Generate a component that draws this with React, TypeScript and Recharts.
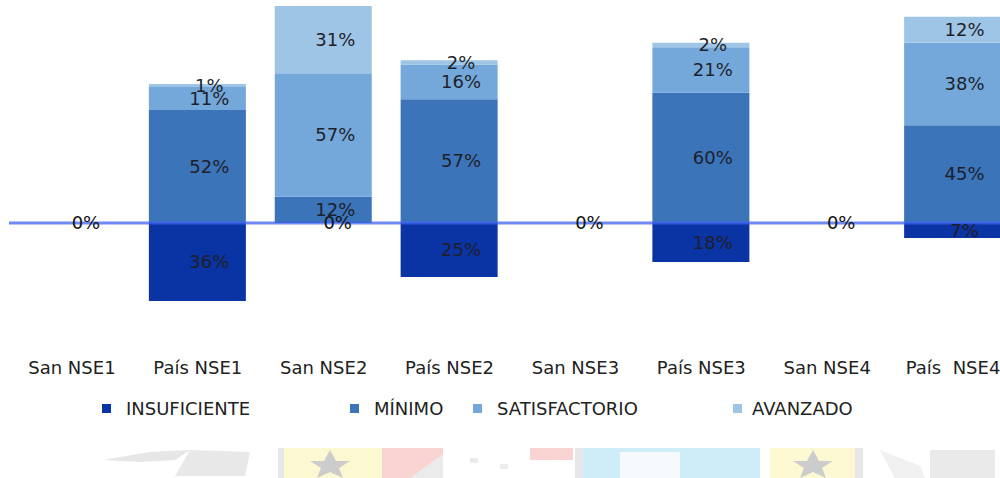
import {
  ComposedChart,
  Bar,
  Line,
  XAxis,
  YAxis,
  LabelList,
  ReferenceLine,
} from "recharts";

const categories = [
  "San NSE1",
  "País NSE1",
  "San NSE2",
  "País NSE2",
  "San NSE3",
  "País NSE3",
  "San NSE4",
  "País\u00a0 NSE4",
];
// insuficiente is drawn below zero
const insuficiente = [0, 36, 0, 25, 0, 18, 0, 7];
const minimo = [0, 52, 12, 57, 0, 60, 0, 45];
const satisfactorio = [0, 11, 57, 16, 0, 21, 0, 38];
const avanzado = [0, 1, 31, 2, 0, 2, 0, 12];

const seriesNames = ["INSUFICIENTE", "MÍNIMO", "SATISFACTORIO", "AVANZADO"];
const COLORS = ["#0a33a3", "#3b74b9", "#74a8da", "#9ec5e5"];

const data = categories.map((name, i) => ({
  name,
  insuf: -insuficiente[i],
  min: minimo[i],
  sat: satisfactorio[i],
  av: avanzado[i],
  // zero-height segments still get a "0%" label, like in the original
  zero: insuficiente[i] === 0 ? 0 : null,
}));

const FONT = "'DejaVu Sans', Verdana, sans-serif";
const labelStyle = { fontFamily: FONT, fontSize: 18, fill: "#1f1f2a" };
const fmt = (v: any) => `${Math.abs(Number(v))}%`;

// legend layout (page x of each marker)
const legendX = [102, 350, 473, 733];

const Legend = () => (
  <div style={{ position: "absolute", left: 0, top: 398, width: 1000, height: 24 }}>
    {seriesNames.map((s, i) => (
      <div
        key={s}
        style={{
          position: "absolute",
          left: legendX[i],
          top: 0,
          display: "flex",
          alignItems: "center",
          fontFamily: FONT,
          fontSize: 18,
          color: "#222",
          whiteSpace: "nowrap",
        }}
      >
        <span
          style={{
            width: 9,
            height: 9,
            background: COLORS[i],
            marginRight: i === 3 ? 10 : 15,
            display: "inline-block",
          }}
        />
        {s}
      </div>
    ))}
  </div>
);

// faded banner strip at the bottom of the slide
const Banner = () => (
  <svg
    width={1000}
    height={32}
    style={{ position: "absolute", left: 0, top: 446, opacity: 0.5 }}
  >
    <polygon points="103,14 150,6 190,4 175,14 140,16" fill="#cfcfcf" />
    <polygon points="175,30 190,4 250,6 245,30" fill="#d2d2d2" />
    <rect x={278} y={2} width={104} height={30} fill="#fbf3a6" />
    <rect x={278} y={2} width={6} height={30} fill="#d0d0d0" />
    <polygon points="330,4 336,15 350,15 339,22 343,32 330,26 317,32 321,22 310,15 324,15" fill="#9a9a9a" />
    <rect x={382} y={2} width={61} height={30} fill="#f5aaa6" />
    <polygon points="410,32 443,8 443,32" fill="#d8d8d8" />
    <rect x={470} y={12} width={8} height={5} fill="#d8d8d8" />
    <rect x={500} y={18} width={8} height={5} fill="#d8d8d8" />
    <rect x={530} y={2} width={43} height={12} fill="#f5aaa6" />
    <rect x={575} y={2} width={8} height={30} fill="#d0d0d0" />
    <rect x={583} y={2} width={177} height={30} fill="#9fdcf5" />
    <rect x={620} y={6} width={60} height={26} fill="#f0f6fa" />
    <rect x={770} y={2} width={85} height={30} fill="#fbf3a6" />
    <polygon points="813,4 819,15 833,15 822,22 826,32 813,26 800,32 804,22 793,15 807,15" fill="#9a9a9a" />
    <rect x={855} y={2} width={8} height={30} fill="#d0d0d0" />
    <polygon points="880,4 920,20 925,32 895,32" fill="#e2e2e2" />
    <rect x={930} y={4} width={65} height={28} fill="#d6d6d6" />
  </svg>
);

const App = () => {
  return (
    <div
      style={{
        position: "fixed",
        left: 0,
        top: 0,
        width: 1000,
        height: 478,
        overflow: "hidden",
        background: "#fff",
      }}
    >
      <ComposedChart
        width={1016}
        height={478}
        data={data}
        stackOffset="sign"
        barSize={97}
        margin={{ top: 6, right: 0, left: 9, bottom: 95 }}
      >
        <YAxis hide domain={[-60, 100]} allowDataOverflow />
        <XAxis
          dataKey="name"
          axisLine={false}
          tickLine={false}
          height={30}
          interval={0}
          tick={{ fontFamily: FONT, fontSize: 18, fill: "#222" }}
        />
        {["insuf", "min", "sat", "av"].map((k, i) => (
          <Bar
            key={k}
            dataKey={k}
            name={seriesNames[i]}
            stackId="a"
            fill={COLORS[i]}
            isAnimationActive={false}
          >
            <LabelList
              dataKey={k}
              position="center"
              dx={12}
              formatter={fmt}
              style={labelStyle}
            />
          </Bar>
        ))}
        <ReferenceLine
          y={0}
          stroke="#3f63f0"
          strokeWidth={3}
          strokeOpacity={0.75}
        />
        <Line
          dataKey="zero"
          stroke="none"
          dot={false}
          activeDot={false}
          connectNulls={false}
          isAnimationActive={false}
        >
          <LabelList
            dataKey="zero"
            position="center"
            dx={14}
            formatter={(v: any) => (v === null || v === undefined ? "" : fmt(v))}
            style={{ ...labelStyle, fill: "#111" }}
          />
        </Line>
      </ComposedChart>
      <Legend />
      <Banner />
    </div>
  );
};

export default App;
